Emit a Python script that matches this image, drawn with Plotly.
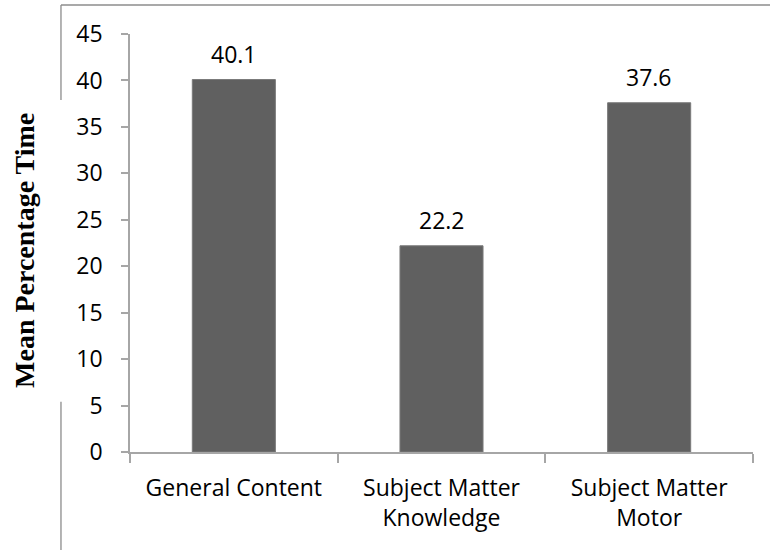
import plotly.graph_objects as go

# Mean percentage of time by content category
categories = ["General Content", "Subject Matter<br>Knowledge", "Subject Matter<br>Motor"]
mean_pct_time = [40.1, 22.2, 37.6]
y_ticks = [0, 5, 10, 15, 20, 25, 30, 35, 40, 45]

BAR = "#606060"
AXIS = "#a6a6a6"
FRAME = "#8c8c8c"
TICK_FONT = dict(family="Open Sans", size=23, color="#000000")

fig = go.Figure(
    go.Bar(
        x=categories,
        y=mean_pct_time,
        marker=dict(color=BAR, line=dict(color="#7a7a7a", width=1)),
        hoverinfo="x+y",
    )
)

# value labels above each bar
for cat, val in zip(categories, mean_pct_time):
    fig.add_annotation(
        x=cat, y=val, text=f"{val:.1f}", showarrow=False,
        xref="x", yref="y", yanchor="bottom", yshift=8,
        font=TICK_FONT,
    )

# rotated axis title
fig.add_annotation(
    x=-0.1685, y=0.481, xref="paper", yref="paper",
    xanchor="center", yanchor="middle",
    text="<b>Mean Percentage Time</b>", textangle=-90, showarrow=False,
    font=dict(family="Liberation Serif", size=28, color="#000000"),
)

# partial outer frame (top edge and left edge, broken around the title)
frame_line = dict(color=FRAME, width=1.3)
fig.add_shape(type="line", xref="paper", yref="paper",
              x0=-0.1108, x1=1.05, y0=1.0694, y1=1.0694, line=frame_line)
fig.add_shape(type="line", xref="paper", yref="paper",
              x0=-0.1108, x1=-0.1108, y0=1.0694, y1=0.842, line=frame_line)
fig.add_shape(type="line", xref="paper", yref="paper",
              x0=-0.1108, x1=-0.1108, y0=0.12, y1=-0.3, line=frame_line)

fig.update_layout(
    width=770, height=550,
    margin=dict(l=130, r=17, t=34, b=98),
    paper_bgcolor="white", plot_bgcolor="white",
    bargap=0.6, showlegend=False,
    xaxis=dict(
        type="category", tickson="boundaries", ticks="outside", ticklen=9,
        tickcolor=AXIS, tickwidth=1.5, showline=True, linecolor=AXIS, linewidth=1.5,
        showgrid=False, tickfont=TICK_FONT, ticklabelstandoff=15,
    ),
    yaxis=dict(
        range=[0, 45], tickvals=y_ticks, ticks="outside", ticklen=7,
        tickcolor=AXIS, tickwidth=1.5, showline=True, linecolor=AXIS, linewidth=1.5,
        showgrid=False, zeroline=False, tickfont=TICK_FONT, ticklabelstandoff=14,
    ),
)

fig.write_html("out.html")
